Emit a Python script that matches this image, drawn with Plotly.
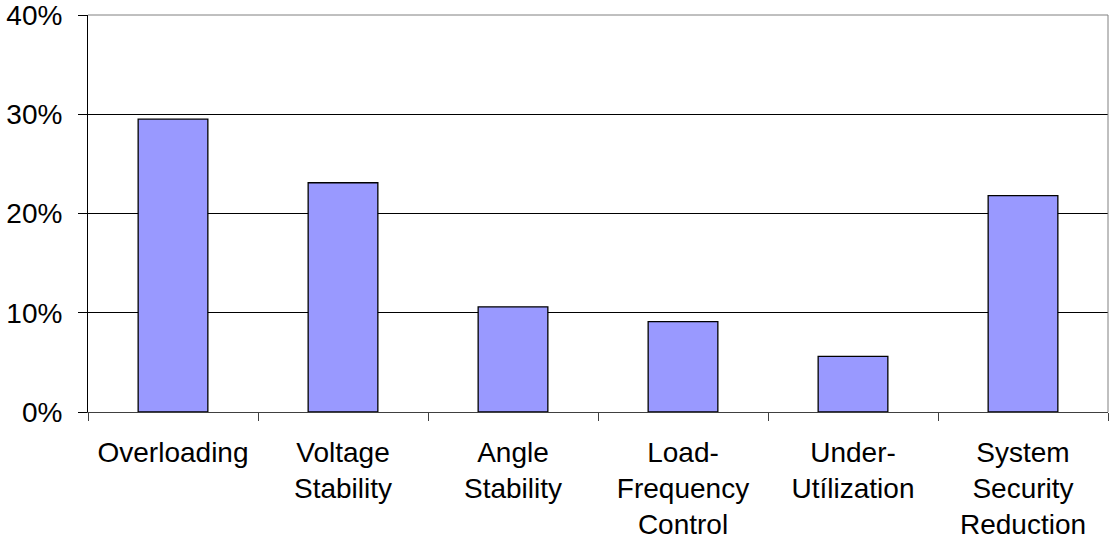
import plotly.graph_objects as go

categories = [
    "Overloading",
    "Voltage<br>Stability",
    "Angle<br>Stability",
    "Load-<br>Frequency<br>Control",
    "Under-<br>Utílization",
    "System<br>Security<br>Reduction",
]
shares = [0.295, 0.231, 0.106, 0.091, 0.056, 0.218]
y_ticks = [0.0, 0.1, 0.2, 0.3, 0.4]

font = dict(family="Liberation Sans, Arial, sans-serif", size=28, color="black")

fig = go.Figure(
    go.Bar(
        x=categories,
        y=shares,
        marker=dict(color="#9999FF", line=dict(color="black", width=1.3)),
        width=0.41,
        hoverinfo="x+y",
    )
)

fig.update_layout(
    width=1110,
    height=540,
    margin=dict(l=88, r=2, t=15, b=128),
    paper_bgcolor="white",
    plot_bgcolor="white",
    font=font,
    showlegend=False,
    bargap=0.59,
)

fig.update_yaxes(
    range=[0, 0.4],
    tickvals=y_ticks,
    tickformat=".0%",
    showgrid=True,
    gridcolor="black",
    gridwidth=1,
    showline=True,
    linecolor="black",
    linewidth=1,
    ticks="outside",
    ticklen=9,
    tickcolor="black",
    zeroline=False,
    tickfont=font,
    ticklabelstandoff=10,
    ticklabeloverflow="allow",
    automargin=False,
)

fig.update_xaxes(
    type="category",
    showline=True,
    linecolor="#404040",
    linewidth=1,
    ticks="outside",
    tickson="boundaries",
    ticklen=8,
    tickcolor="#404040",
    showgrid=False,
    tickfont=font,
    ticklabelstandoff=15,
    ticklabeloverflow="allow",
    automargin=False,
)

# plot-area frame on the top and right edges
fig.add_shape(type="line", xref="paper", yref="paper", x0=0, x1=1, y0=1, y1=1,
              line=dict(color="#808080", width=1), layer="above")
fig.add_shape(type="line", xref="paper", yref="paper", x0=1, x1=1, y0=0, y1=1,
              line=dict(color="#808080", width=1), layer="above")

fig.write_html("out.html")
